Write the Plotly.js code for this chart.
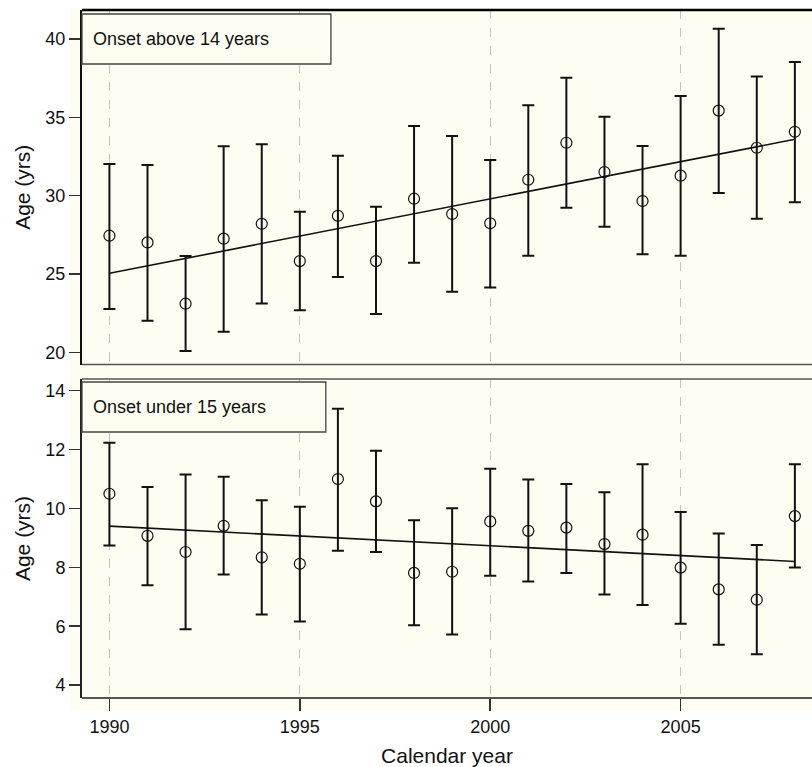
<!DOCTYPE html>
<html>
<head>
<meta charset="utf-8">
<script src="https://cdn.plot.ly/plotly-3.0.1.min.js"></script>
<style>html,body{margin:0;padding:0;background:#fff;}#chart{width:812px;height:767px;}</style>
</head>
<body>
<div id="chart"></div>
<script>
// ---- data ----
var years = [1990,1991,1992,1993,1994,1995,1996,1997,1998,1999,2000,2001,2002,2003,2004,2005,2006,2007,2008];

var aboveMean  = [27.45,27.02,23.11,27.26,28.21,25.83,28.72,25.83,29.81,28.83,28.24,31.02,33.38,31.51,29.66,31.28,35.43,33.06,34.08];
var aboveUpper = [32.02,31.96,26.15,33.15,33.28,28.98,32.55,29.30,34.45,33.81,32.28,35.77,37.53,35.04,33.17,36.36,40.66,37.60,38.53];
var aboveLower = [22.77,22.02,20.09,21.32,23.13,22.70,24.81,22.45,25.72,23.87,24.15,26.17,29.23,28.02,26.26,26.17,30.17,28.53,29.58];
var aboveTrendYears = [1990, 2008];
var aboveTrend = [25.05, 33.60];

var underMean  = [10.50,9.07,8.52,9.41,8.34,8.12,11.00,10.24,7.81,7.85,9.56,9.24,9.35,8.79,9.11,7.99,7.25,6.90,9.74];
var underUpper = [12.23,10.73,11.15,11.08,10.28,10.06,13.39,11.96,9.60,10.01,11.35,10.98,10.83,10.55,11.50,9.88,9.15,8.76,11.50];
var underLower = [8.74,7.39,5.90,7.76,6.40,6.16,8.56,8.52,6.03,5.72,7.71,7.52,7.81,7.08,6.72,6.08,5.37,5.05,7.99];
var underTrendYears = [1990, 2008];
var underTrend = [9.40, 8.20];

var xTicks = [1990, 1995, 2000, 2005];
var aboveTicks = [20, 25, 30, 35, 40];
var underTicks = [4, 6, 8, 10, 12, 14];

var panelLabels = ["Onset above 14 years", "Onset under 15 years"];
var yTitle = "Age (yrs)";
var xTitle = "Calendar year";

// ---- helpers ----
function diff(a, b) { return a.map(function (v, i) { return +(v - b[i]).toFixed(3); }); }

var cream = "#fdfdf1";
var fontFam = "Liberation Sans, Arial, Helvetica, sans-serif";

var errStyle = {type: "data", symmetric: false, color: "#111", thickness: 2, width: 6};
var markerStyle = {symbol: "circle-open", size: 11, color: "#111", line: {width: 1.2, color: "#111"}};

var traces = [
  {x: aboveTrendYears, y: aboveTrend, xaxis: "x2", yaxis: "y2", mode: "lines", line: {color: "#111", width: 1.6}, hoverinfo: "skip"},
  {x: years, y: aboveMean, xaxis: "x2", yaxis: "y2", mode: "markers", marker: markerStyle,
   error_y: Object.assign({array: diff(aboveUpper, aboveMean), arrayminus: diff(aboveMean, aboveLower)}, errStyle)},
  {x: underTrendYears, y: underTrend, xaxis: "x", yaxis: "y", mode: "lines", line: {color: "#111", width: 1.6}, hoverinfo: "skip"},
  {x: years, y: underMean, xaxis: "x", yaxis: "y", mode: "markers", marker: markerStyle,
   error_y: Object.assign({array: diff(underUpper, underMean), arrayminus: diff(underMean, underLower)}, errStyle)}
];

var xr = [1989.28, 2008.45];
var gridX = {showgrid: true, gridcolor: "#c4c4c4", gridwidth: 1, griddash: "dash"};

var layout = {
  width: 812, height: 767,
  margin: {l: 82, r: 0, t: 10, b: 69},
  paper_bgcolor: "#ffffff",
  plot_bgcolor: cream,
  showlegend: false,
  font: {family: fontFam, color: "#111", size: 18},
  xaxis: Object.assign({
    domain: [0, 1], anchor: "y", range: xr, tickvals: xTicks, ticktext: xTicks.map(String),
    ticks: "outside", ticklen: 12, tickwidth: 1.5, tickcolor: "#333",
    tickfont: {size: 18, family: fontFam, color: "#111"},
    showline: false, zeroline: false,
    title: {text: xTitle, font: {size: 21, family: fontFam, color: "#111"}, standoff: 14}
  }, gridX),
  xaxis2: Object.assign({
    domain: [0, 1], anchor: "y2", range: xr, tickvals: xTicks, showticklabels: false,
    ticks: "", showline: false, zeroline: false, matches: "x"
  }, gridX),
  yaxis: {
    domain: [0, 0.4637], anchor: "x", range: [3.56, 14.40], tickvals: underTicks,
    ticks: "outside", ticklen: 11, tickwidth: 1.5, tickcolor: "#333",
    tickfont: {size: 18, family: fontFam, color: "#111"},
    showline: true, linecolor: "#222", linewidth: 2, showgrid: false, zeroline: false,
    title: {text: yTitle, font: {size: 21, family: fontFam, color: "#111"}, standoff: 9}
  },
  yaxis2: {
    domain: [0.4847, 1], anchor: "x2", range: [19.23, 41.85], tickvals: aboveTicks,
    ticks: "outside", ticklen: 11, tickwidth: 1.5, tickcolor: "#333",
    tickfont: {size: 18, family: fontFam, color: "#111"},
    showline: true, linecolor: "#111", linewidth: 2, showgrid: false, zeroline: false,
    title: {text: yTitle, font: {size: 21, family: fontFam, color: "#111"}, standoff: 9}
  },
  shapes: [
    // cream panel background
    {type: "rect", xref: "paper", yref: "paper", x0: -0.0164, x1: 1.01, y0: -0.0174, y1: 1.003, layer: "below",
     fillcolor: cream, line: {width: 0}},
    // top panel borders
    {type: "line", xref: "paper", yref: "paper", x0: 0, x1: 1, y0: 1, y1: 1, line: {color: "#000", width: 2.5}},
    {type: "line", xref: "paper", yref: "paper", x0: 0, x1: 1, y0: 0.4847, y1: 0.4847, line: {color: "#555", width: 1.5}},
    // bottom panel borders
    {type: "line", xref: "paper", yref: "paper", x0: 0, x1: 1, y0: 0.4637, y1: 0.4637, line: {color: "#555", width: 1.5}},
    {type: "line", xref: "paper", yref: "paper", x0: 0, x1: 1, y0: 0, y1: 0, line: {color: "#555", width: 2}},
    // label boxes
    {type: "rect", xref: "paper", yref: "paper", x0: 0, x1: 0.341, y0: 0.9215, y1: 0.9942,
     fillcolor: cream, line: {color: "#444", width: 1.3}},
    {type: "rect", xref: "paper", yref: "paper", x0: 0, x1: 0.334, y0: 0.3866, y1: 0.4593,
     fillcolor: cream, line: {color: "#444", width: 1.3}}
  ],
  annotations: [
    {xref: "paper", yref: "paper", x: 0.0125, y: 0.9578, xanchor: "left", yanchor: "middle",
     text: panelLabels[0], showarrow: false, font: {size: 18, family: fontFam, color: "#111"}},
    {xref: "paper", yref: "paper", x: 0.0125, y: 0.423, xanchor: "left", yanchor: "middle",
     text: panelLabels[1], showarrow: false, font: {size: 18, family: fontFam, color: "#111"}}
  ]
};

Plotly.newPlot("chart", traces, layout, {displayModeBar: false, staticPlot: true});
</script>
</body>
</html>
